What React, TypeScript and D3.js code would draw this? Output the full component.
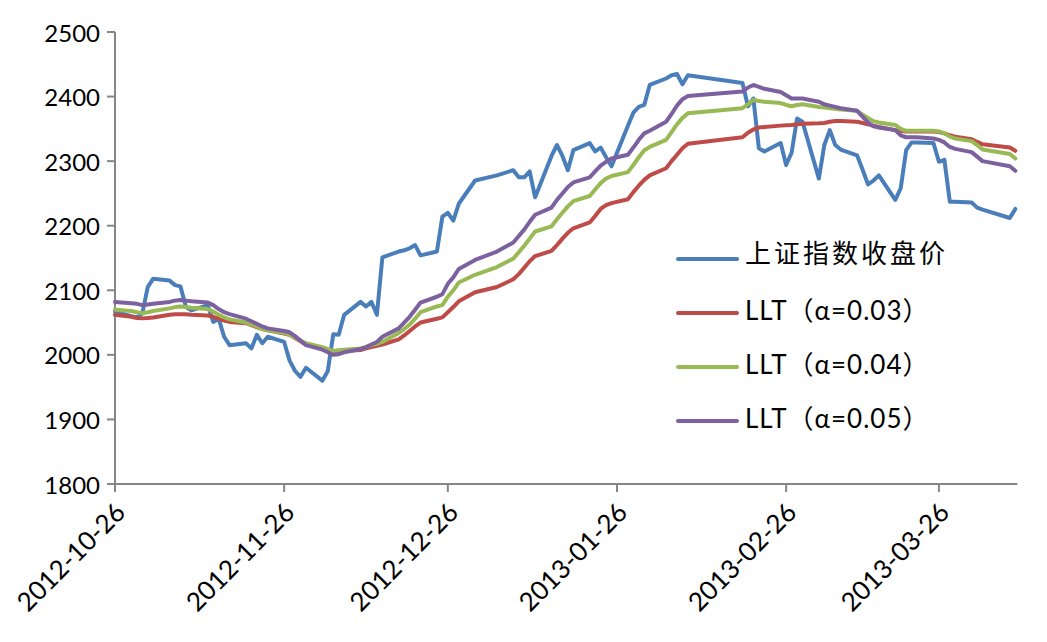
import React from "react";
import * as d3 from "d3";

const dates: string[] = [
  "2012-10-26","2012-10-29","2012-10-30","2012-10-31","2012-11-01","2012-11-02",
  "2012-11-05","2012-11-06","2012-11-07","2012-11-08","2012-11-09",
  "2012-11-12","2012-11-13","2012-11-14","2012-11-15","2012-11-16",
  "2012-11-19","2012-11-20","2012-11-21","2012-11-22","2012-11-23",
  "2012-11-26","2012-11-27","2012-11-28","2012-11-29","2012-11-30",
  "2012-12-03","2012-12-04","2012-12-05","2012-12-06","2012-12-07",
  "2012-12-10","2012-12-11","2012-12-12","2012-12-13","2012-12-14",
  "2012-12-17","2012-12-18","2012-12-19","2012-12-20","2012-12-21",
  "2012-12-24","2012-12-25","2012-12-26","2012-12-27","2012-12-28",
  "2012-12-31","2013-01-04",
  "2013-01-07","2013-01-08","2013-01-09","2013-01-10","2013-01-11",
  "2013-01-14","2013-01-15","2013-01-16","2013-01-17","2013-01-18",
  "2013-01-21","2013-01-22","2013-01-23","2013-01-24","2013-01-25",
  "2013-01-28","2013-01-29","2013-01-30","2013-01-31","2013-02-01",
  "2013-02-04","2013-02-05","2013-02-06","2013-02-07","2013-02-08",
  "2013-02-18","2013-02-19","2013-02-20","2013-02-21","2013-02-22",
  "2013-02-25","2013-02-26","2013-02-27","2013-02-28","2013-03-01",
  "2013-03-04","2013-03-05","2013-03-06","2013-03-07","2013-03-08",
  "2013-03-11","2013-03-12","2013-03-13","2013-03-14","2013-03-15",
  "2013-03-18","2013-03-19","2013-03-20","2013-03-21","2013-03-22",
  "2013-03-25","2013-03-26","2013-03-27","2013-03-28","2013-03-29",
  "2013-04-01","2013-04-02","2013-04-03","2013-04-08","2013-04-09",
];

const closePrice: number[] = [
  2067, 2060, 2058, 2064, 2105, 2118,
  2115, 2108, 2106, 2074, 2069,
  2077, 2051, 2056, 2028, 2015,
  2018, 2010, 2031, 2018, 2028,
  2020, 1991, 1975, 1966, 1980,
  1960, 1975, 2032, 2031, 2062,
  2082, 2075, 2082, 2062, 2151,
  2160, 2162, 2165, 2170, 2154,
  2160, 2214, 2220, 2208, 2234,
  2270, 2278,
  2286, 2275, 2275, 2284, 2244,
  2308, 2325, 2308, 2286, 2317,
  2328, 2315, 2321, 2306, 2292,
  2355, 2375, 2384, 2387, 2418,
  2428, 2433, 2435, 2419, 2433,
  2421, 2385, 2397, 2320, 2315,
  2328, 2294, 2313, 2366, 2361,
  2273, 2325, 2348, 2325, 2318,
  2309, 2287, 2264, 2270, 2278,
  2240, 2258, 2317, 2329, 2329,
  2328, 2299, 2302, 2237, 2237,
  2236, 2228, 2225, 2212, 2226,
];

const llt003: number[] = [
  2062, 2059, 2057, 2056.5, 2057, 2058,
  2062, 2063, 2063, 2063, 2062,
  2061, 2059, 2056, 2053, 2051,
  2049, 2046, 2043, 2040, 2038,
  2033, 2031, 2026, 2021, 2016,
  2010, 2007, 2004, 2005, 2006,
  2007.5, 2010, 2012, 2014, 2016,
  2024, 2030, 2037, 2044, 2050,
  2056, 2058, 2066, 2074, 2083,
  2097, 2105,
  2117, 2125, 2135, 2145, 2153,
  2161, 2170, 2180, 2189, 2196,
  2205, 2215, 2226, 2232, 2235,
  2241, 2252, 2262, 2271, 2278,
  2289, 2300, 2310, 2320, 2327,
  2337, 2344, 2349, 2352, 2353,
  2355, 2355.5, 2356, 2357, 2358,
  2358.5, 2359, 2361, 2362, 2362,
  2361, 2359, 2357, 2355, 2353,
  2348, 2347, 2346, 2346, 2346,
  2346, 2345, 2343, 2340, 2338,
  2334, 2330, 2326, 2321, 2316,
];

const llt004: number[] = [
  2070, 2068, 2066, 2064.5, 2066, 2068,
  2072, 2074, 2075, 2074, 2073,
  2071, 2067, 2062, 2058, 2055,
  2050, 2047, 2044, 2040, 2038,
  2034, 2031, 2027, 2022, 2018,
  2012, 2009, 2006, 2007, 2008,
  2010, 2012, 2015, 2017, 2020,
  2034, 2040, 2047, 2056, 2066,
  2075, 2077, 2090, 2100, 2112,
  2124, 2136,
  2149, 2159, 2169, 2180, 2191,
  2199, 2210, 2220, 2230, 2238,
  2246, 2256, 2266, 2273, 2277,
  2283, 2294, 2306, 2317, 2322,
  2333, 2345, 2357, 2367, 2374,
  2382, 2388, 2395, 2393, 2392,
  2390, 2387, 2385, 2387, 2388,
  2384, 2383, 2382, 2381, 2380,
  2378, 2372, 2367, 2362, 2360,
  2356, 2350, 2347, 2347, 2347,
  2347, 2346, 2343, 2338, 2335,
  2331, 2325, 2318, 2311, 2304,
];

const llt005: number[] = [
  2082, 2080, 2079, 2077, 2078, 2079,
  2082, 2084, 2085, 2084, 2083,
  2081, 2077, 2071, 2066, 2063,
  2056, 2052, 2048, 2044, 2041,
  2037, 2035, 2029, 2022, 2015,
  2008, 2004, 2000, 2001, 2004,
  2009, 2012, 2016, 2020, 2028,
  2041, 2050, 2059, 2070, 2081,
  2090, 2094, 2110, 2120, 2133,
  2147, 2160,
  2174, 2184, 2194, 2206, 2217,
  2228, 2240, 2250, 2260, 2267,
  2275, 2284, 2293, 2299, 2304,
  2310, 2321, 2333, 2343, 2347,
  2361, 2373, 2386, 2396, 2401,
  2408, 2414, 2418, 2415, 2412,
  2407, 2402, 2397, 2397, 2397,
  2392, 2388, 2386, 2384, 2382,
  2378, 2369, 2360, 2354, 2352,
  2348, 2340, 2337, 2337, 2337,
  2335, 2333, 2329, 2322, 2319,
  2314, 2307, 2300, 2292, 2285,
];

const yTicks: number[] = [1800, 1900, 2000, 2100, 2200, 2300, 2400, 2500];
const xTickLabels: string[] = [
  "2012-10-26", "2012-11-26", "2012-12-26", "2013-01-26", "2013-02-26", "2013-03-26",
];

const seriesNames: string[] = [
  "上证指数收盘价", "LLT（α=0.03）", "LLT（α=0.04）", "LLT（α=0.05）",
];
const seriesColors: string[] = ["#4A7EBB", "#BE4B48", "#98B954", "#7D60A0"];

const parse = d3.timeParse("%Y-%m-%d");

export default function App() {
  const width = 1047;
  const height = 642;
  const left = 115;
  const right = 1015.3;
  const top = 32;
  const bottom = 484;

  const parsedDates = dates.map((d) => parse(d) as Date);
  const x = d3
    .scaleTime()
    .domain([parsedDates[0], parsedDates[parsedDates.length - 1]])
    .range([left, right]);
  const y = d3.scaleLinear().domain([1800, 2500]).range([bottom, top]);

  const allSeries = [closePrice, llt003, llt004, llt005];
  const line = d3
    .line<number>()
    .x((_, i) => x(parsedDates[i]))
    .y((v) => y(v));

  const axisColor = "#868686";
  const tickFont = "Lato, 'Liberation Sans', sans-serif";
  const legendY = [259, 313, 367, 421];

  return (
    <svg
      width={width}
      height={height}
      style={{ position: "absolute", left: 0, top: 0, background: "#fff" }}
    >
      {/* y axis */}
      <line x1={left} x2={left} y1={top} y2={bottom} stroke={axisColor} strokeWidth={2} />
      {yTicks.map((t) => (
        <g key={t}>
          <line x1={left - 8} x2={left} y1={y(t)} y2={y(t)} stroke={axisColor} strokeWidth={2} />
          <text
            x={100}
            y={y(t)}
            textAnchor="end"
            dominantBaseline="central"
            fontFamily={tickFont}
            fontSize={24}
            fill="#000"
          >
            {t}
          </text>
        </g>
      ))}
      {/* x axis */}
      <line x1={left} x2={right + 2} y1={bottom} y2={bottom} stroke={axisColor} strokeWidth={2} />
      {xTickLabels.map((lbl) => {
        const tx = x(parse(lbl) as Date);
        return (
          <g key={lbl}>
            <line x1={tx} x2={tx} y1={bottom} y2={bottom + 8} stroke={axisColor} strokeWidth={2} />
            <text
              transform={`translate(${tx + 12},${bottom + 30}) rotate(-45)`}
              textAnchor="end"
              fontFamily={tickFont}
              fontSize={26}
              fill="#000"
            >
              {lbl}
            </text>
          </g>
        );
      })}
      {/* series */}
      {allSeries.map((s, i) => (
        <path
          key={i}
          d={line(s) || ""}
          fill="none"
          stroke={seriesColors[i]}
          strokeWidth={4}
          strokeLinejoin="round"
          strokeLinecap="round"
        />
      ))}
      {/* legend */}
      {seriesNames.map((name, i) => (
        <g key={name}>
          <line
            x1={678}
            x2={737}
            y1={legendY[i]}
            y2={legendY[i]}
            stroke={seriesColors[i]}
            strokeWidth={4}
            strokeLinecap="round"
          />
          <text
            x={745}
            y={legendY[i] + (i === 0 ? 4 : 7)}
            fontFamily="Lato, 'Noto Sans CJK SC', sans-serif"
            fontSize={26}
            letterSpacing={i === 0 ? 3 : 1}
            fill="#000"
          >
            {name}
          </text>
        </g>
      ))}
    </svg>
  );
}
